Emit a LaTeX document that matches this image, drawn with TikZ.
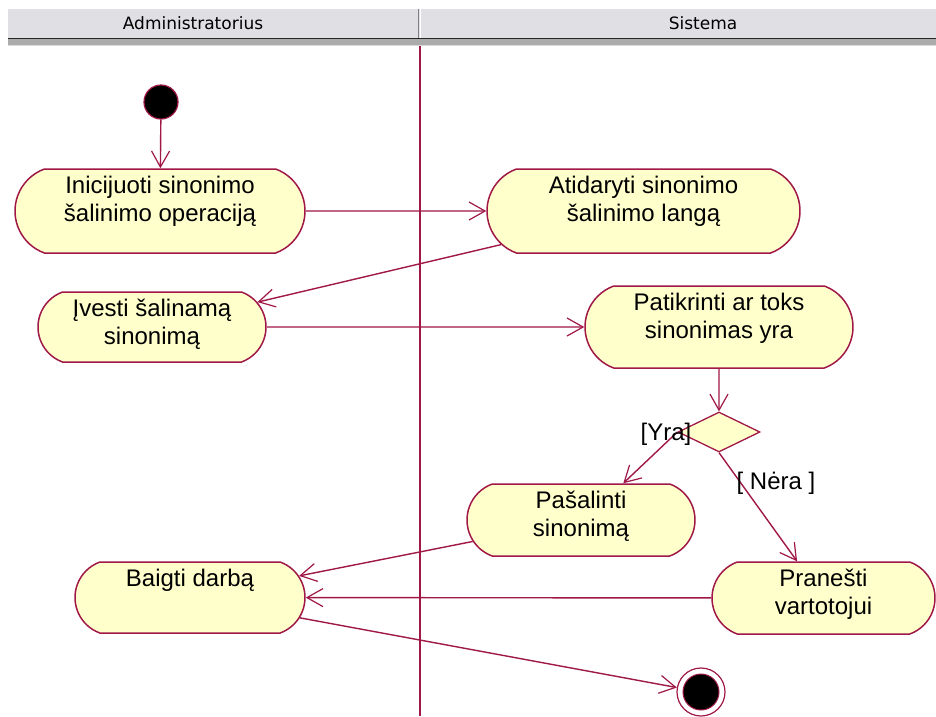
\documentclass[tikz,border=0pt]{standalone}
\usepackage{fontspec}
\setmainfont{Liberation Sans}
\newfontfamily\lanefont{DejaVu Sans}
\usetikzlibrary{shapes.misc,shapes.geometric,arrows.meta}

\definecolor{umlline}{RGB}{160,24,72}
\definecolor{actfill}{RGB}{255,255,204}
\definecolor{hdrfill}{RGB}{224,223,228}

% activity caption: fixed-height box, lines hang from the top edge
\newcommand\acttxt[3]{\parbox[c][#1][t]{100pt}{\centering
  \fontsize{24}{28}\selectfont\vspace*{7pt}%
  \makebox[0pt]{#2}\\\makebox[0pt]{#3}}}

\tikzset{
  act/.style={rounded rectangle, rounded rectangle arc length=140,
    draw=umlline, line width=1.5pt, fill=actfill, inner sep=0pt},
  flow/.style={draw=umlline, line width=1.4pt,
    -{Straight Barb[length=16pt,width=18pt,line width=1.2pt]}},
  guard/.style={font=\fontsize{24}{28}\selectfont, inner sep=0pt},
  lanehead/.style={font=\lanefont\fontsize{17}{20}\selectfont, inner sep=0pt},
}

\begin{document}
\begin{tikzpicture}[x=1pt, y=-1pt]
\useasboundingbox (0,0) rectangle (936,716);
\fill[white] (0,0) rectangle (936,716);

% swimlane header
\fill[hdrfill] (8,9) rectangle (936,38);
\fill[gray!65] (8,38) rectangle (936,46);
\draw[gray!30!black, line width=1pt] (8,38.5) -- (936,38.5);
\draw[gray!30, line width=1pt] (8,45.5) -- (936,45.5);
\draw[gray, line width=1pt] (418.5,9) -- (418.5,38);
\draw[white, line width=1pt] (420,9) -- (420,38);
\node[lanehead] (laneA) at (193,23) {Administratorius};
\node[lanehead] (laneB) at (703,23) {Sistema};

% lane separator
\coordinate (sepTop) at (420,46);
\coordinate (sepBot) at (420,716);
\draw[umlline, line width=1.4pt] (sepTop) -- (sepBot);

% initial and final states
\node[circle, fill=black, draw=umlline, line width=1.2pt, minimum size=34pt, inner sep=0pt] (start) at (161,102) {};
\node[circle, draw=umlline, line width=1.2pt, fill=white, minimum size=48pt, inner sep=0pt] (end) at (701,692) {};
\node[circle, fill=black, draw=umlline, line width=1pt, minimum size=36pt, inner sep=0pt] (endcore) at (701,692) {};

% activities
\node[act, minimum width=290pt, minimum height=84pt] (n1) at (160,211)
  {\acttxt{84pt}{Inicijuoti sinonimo}{šalinimo operaciją}};
\node[act, minimum width=313pt, minimum height=84pt] (n2) at (643.5,211)
  {\acttxt{84pt}{Atidaryti sinonimo}{šalinimo langą}};
\node[act, minimum width=228pt, minimum height=70pt] (n3) at (152,327)
  {\acttxt{70pt}{Įvesti šalinamą}{sinonimą}};
\node[act, minimum width=268pt, minimum height=82pt] (n4) at (719,327)
  {\acttxt{82pt}{Patikrinti ar toks}{sinonimas yra}};
\node[diamond, draw=umlline, fill=actfill, line width=1.3pt, minimum width=82pt, minimum height=40pt, inner sep=0pt] (dia) at (719,432) {};
\node[act, minimum width=228pt, minimum height=72pt] (n5) at (581,520)
  {\acttxt{72pt}{Pašalinti}{sinonimą}};
\node[act, minimum width=223pt, minimum height=72pt] (n6) at (823.5,598)
  {\acttxt{72pt}{Pranešti}{vartotojui}};
\node[act, minimum width=230pt, minimum height=71pt] (n7) at (190,597.5)
  {\acttxt{71pt}{Baigti darbą}{}};

% transitions
\draw[flow] (start) -- (n1);
\draw[flow] (n1) -- (n2);
\draw[flow] (n2) -- (n3);
\draw[flow] (n3) -- (n4);
\draw[flow] (n4) -- (dia);
\draw[flow] (dia.west) -- (n5.41);
\draw[flow] (dia.south) -- (n6);
\draw[flow] (n5) -- (n7);
\draw[flow] (n6) -- (n7);
\draw[flow] (n7) -- (end);

% guards
\node[guard] (yra) at (666,434) {[Yra]};
\node[guard] (nera) at (776,483) {[ Nėra ]};
\end{tikzpicture}
\end{document}
